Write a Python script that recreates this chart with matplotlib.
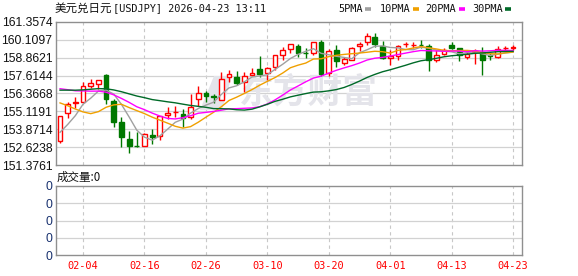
import matplotlib
matplotlib.use("Agg")
import matplotlib.pyplot as plt
from matplotlib.lines import Line2D
from matplotlib.patches import Polygon
import numpy as np
import pandas as pd

# ---------------- data ----------------
dates = [d.strftime("%m-%d") for d in pd.bdate_range("2026-01-30", "2026-04-23")]

opens = [153.03, 154.98, 155.68, 155.79, 156.91, 157.01, 157.66, 155.84, 154.38, 153.17,
         152.70, 152.72, 153.47, 153.42, 154.87, 155.06, 154.91, 154.73, 155.98, 156.42,
         156.17, 155.91, 157.50, 157.52, 157.15, 157.64, 158.08, 157.78, 158.25, 159.03,
         159.47, 159.68, 159.19, 159.19, 159.96, 157.83, 159.40, 158.52, 158.73, 159.65,
         159.93, 160.31, 159.70, 158.82, 158.98, 159.79, 159.73, 159.77, 159.66, 158.69,
         159.12, 159.72, 159.52, 158.89, 159.26, 159.23, 159.05, 158.89, 159.51, 159.57]
highs = [154.80, 155.79, 156.10, 157.15, 157.38, 157.29, 157.73, 155.96, 154.70, 153.75,
         153.66, 153.59, 153.89, 154.80, 155.39, 155.49, 155.26, 156.31, 156.89, 156.56,
         156.30, 157.85, 158.03, 157.96, 157.90, 158.13, 158.98, 158.19, 159.02, 159.63,
         159.80, 159.84, 159.52, 159.96, 160.10, 159.49, 159.73, 158.93, 159.63, 159.98,
         160.59, 160.62, 160.03, 159.40, 159.73, 159.94, 159.93, 160.07, 159.82, 159.40,
         159.51, 159.94, 159.56, 159.40, 159.45, 159.58, 159.16, 159.70, 159.68, 159.75]
lows = [152.89, 154.63, 155.33, 155.79, 156.73, 156.66, 155.63, 154.05, 152.60, 152.23,
        152.65, 152.72, 152.84, 153.09, 154.59, 154.71, 154.05, 154.56, 155.49, 155.77,
        155.67, 155.91, 157.20, 156.96, 156.49, 157.60, 157.52, 157.31, 158.01, 158.73,
        159.17, 158.93, 158.82, 159.05, 157.59, 157.62, 158.25, 158.36, 158.73, 159.35,
        159.75, 159.61, 158.75, 158.39, 158.71, 159.63, 159.54, 159.56, 157.96, 158.54,
        159.05, 159.44, 158.63, 158.77, 158.40, 157.68, 158.70, 158.82, 159.35, 159.40]
closes = [154.80, 155.63, 155.79, 156.89, 157.10, 157.29, 155.96, 154.38, 153.30, 152.70,
          152.68, 153.54, 153.33, 154.80, 155.01, 155.10, 154.66, 155.43, 156.38, 156.21,
          156.12, 157.36, 157.71, 157.13, 157.59, 157.80, 157.73, 158.12, 159.02, 159.38,
          159.80, 159.17, 159.17, 159.96, 157.75, 159.31, 158.63, 158.77, 159.52, 159.82,
          160.38, 159.84, 158.86, 159.00, 159.68, 159.81, 159.75, 159.75, 158.68, 159.03,
          159.40, 159.52, 159.03, 159.10, 159.30, 158.70, 159.00, 159.45, 159.53, 159.58]
# closes before the visible window (needed for the moving averages)
prior_closes = [155.6, 155.9, 156.2, 155.8, 156.0, 156.3, 156.8, 157.0, 157.2, 157.2,
                157.0, 157.3, 157.1, 157.4, 157.2, 157.5, 158.1, 158.3, 158.2, 158.8,
                157.6, 158.1, 158.9, 158.3, 155.9, 152.9, 152.7, 152.9, 155.0]

ytick_labels = ["161.3574", "160.1097", "158.8621", "157.6144", "156.3668",
                "155.1191", "153.8714", "152.6238", "151.3761"]
xtick_idx = [3, 11, 19, 27, 35, 43, 51, 59]
ma_periods = [5, 10, 20, 30]
ma_colors = ["#a0a0a0", "#f0a000", "#ff00ff", "#006a28"]
ma_names = ["5PMA", "10PMA", "20PMA", "30PMA"]

# ---------------- figure ----------------
W, H = 578, 276
fig = plt.figure(figsize=(W / 100, H / 100), dpi=100)
fig.patch.set_facecolor("white")

def fx(x):
    return x / W

def fy(y):
    return 1 - y / H

L, R = 55.5, 522
ax = fig.add_axes([fx(L), fy(165), (R - L) / W, 143 / H])
axv = fig.add_axes([fx(L), fy(255), (R - L) / W, 69 / H])

CJK = ["Noto Sans CJK SC", "DejaVu Sans"]
MONO = "DejaVu Sans Mono"
frame_c = "#8f8f8f"
grid_c = "#d2d2d2"

n = len(closes)
xs = np.arange(n)
yt = [float(s) for s in ytick_labels]

for a in (ax, axv):
    a.set_xlim(-0.59, n + 0.16)
    for s in a.spines.values():
        s.set_color(frame_c)
        s.set_linewidth(1.0)
    a.set_facecolor("white")
    for i in xtick_idx:
        a.axvline(i, color="#c8c8c8", lw=0.8, ls=(0, (3, 3)), zorder=0.5)

# price axis
ax.set_ylim(yt[-1], yt[0])
ax.set_yticks(yt)
ax.set_yticklabels(ytick_labels, fontfamily="Liberation Sans", fontsize=8.7, color="#111111")
ax.tick_params(axis="y", length=0, pad=2.2)
ax.set_xticks([])
for v in yt[1:-1]:
    ax.axhline(v, color=grid_c, lw=0.9, zorder=0.5)

# watermark (logo swoosh + text)
wm_c = "#e4e4ea"
logo = Polygon([(fx(214), fy(76)), (fx(232), fy(76)), (fx(222), fy(110)), (fx(200), fy(110))],
               closed=True, transform=fig.transFigure, facecolor=wm_c, edgecolor="none", zorder=0.6)
ax.add_patch(logo)
ax.text(fx(308), fy(92), "东方财富", transform=fig.transFigure, ha="center", va="center",
        fontsize=25, fontweight="bold", color=wm_c, family=CJK, zorder=0.6)

# candles
up_c, dn_c = "#ff0000", "#007800"
bw = 0.62
for i in range(n):
    o, h, l, c = opens[i], highs[i], lows[i], closes[i]
    up = c >= o
    col = up_c if up else dn_c
    ax.vlines(xs[i], l, h, color=col, lw=1.0, zorder=2)
    bottom = min(o, c)
    height = max(abs(c - o), 0.012)
    ax.bar(xs[i], height, bottom=bottom, width=bw,
           facecolor="white" if up else dn_c, edgecolor=col, linewidth=1.0, zorder=3)

# moving averages
full = pd.Series(prior_closes + closes)
for p, colr in zip(ma_periods, ma_colors):
    ma = full.rolling(p).mean().to_numpy()[-n:]
    ax.plot(xs, ma, color=colr, lw=1.0, zorder=4)

# volume axis
axv.set_ylim(0, 4)
axv.set_yticks([0, 1, 2, 3, 4])
axv.set_yticklabels(["0"] * 5, fontfamily="Liberation Sans", fontsize=8.7, color="#17306e")
axv.tick_params(axis="y", length=0, pad=2.2)
for v in [1, 2, 3]:
    axv.axhline(v, color=grid_c, lw=0.9, zorder=0.5)
axv.set_xticks(xtick_idx)
axv.set_xticklabels([dates[i] for i in xtick_idx], fontfamily=MONO, fontsize=7.4, color="#ff0000")
axv.tick_params(axis="x", length=0, pad=4.5)

# title
fig.text(fx(55), fy(8.5), "美元兑日元", family=CJK, fontsize=8.3, ha="left", va="center", color="#111111")
fig.text(fx(113), fy(8.5), "[USDJPY] 2026-04-23 13:11", family=MONO, fontsize=7.4,
         ha="left", va="center", color="#111111")

# legend
leg_text_x = [338, 380, 425, 472]
leg_mark_x = [365, 413, 459, 505]
for name, tx, mx, colr in zip(ma_names, leg_text_x, leg_mark_x, ma_colors):
    fig.text(fx(tx), fy(9), name, family=MONO, fontsize=7.4, ha="left", va="center", color="#111111")
    fig.add_artist(Line2D([fx(mx), fx(mx + 6)], [fy(9), fy(9)], color=colr, lw=2.6,
                          solid_capstyle="butt", transform=fig.transFigure))

# volume label
fig.text(fx(57), fy(177), "成交量:0", family=CJK, fontsize=8.3, ha="left", va="center", color="#111111")

fig.savefig("out.png", dpi=100, facecolor="white")
